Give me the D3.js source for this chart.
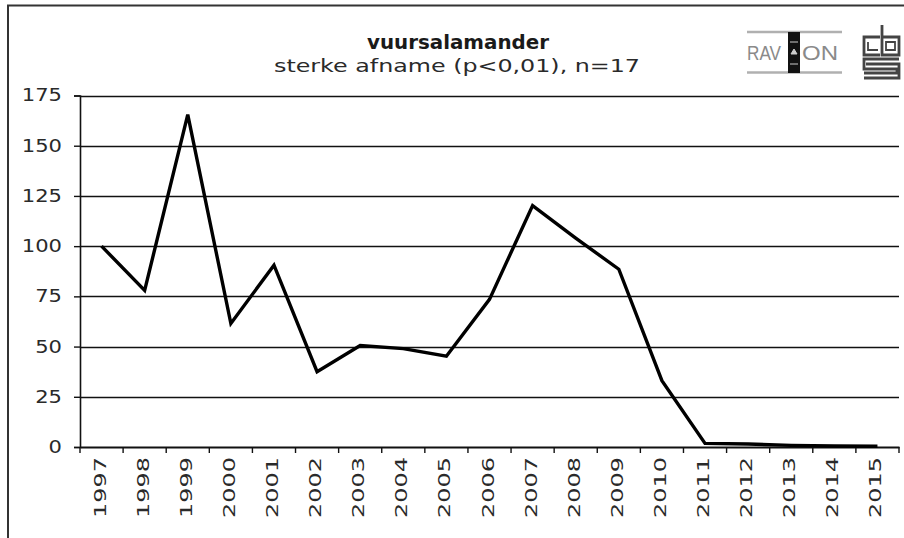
<!DOCTYPE html>
<html>
<head>
<meta charset="utf-8">
<script src="https://cdn.jsdelivr.net/npm/d3@7"></script>
<style>
  body { margin: 0; background: #fff; }
  svg { display: block; }
  text { font-family: Verdana, "DejaVu Sans", sans-serif; }
</style>
</head>
<body>
<div id="chart"></div>
<script>
// data
const years = ['1997','1998','1999','2000','2001','2002','2003','2004','2005','2006',
               '2007','2008','2009','2010','2011','2012','2013','2014','2015'];
const index = [100, 78, 165.5, 61.5, 90.5, 37.5, 50.5, 49, 45.2, 73.5,
               120.2, 104, 88.5, 33, 1.8, 1.5, 0.8, 0.5, 0.4];
const yTicks = [0, 25, 50, 75, 100, 125, 150, 175];
const title = 'vuursalamander';
const subtitle = 'sterke afname (p<0,01), n=17';

const width = 904, height = 538;
const plotLeft = 80, plotRight = 899, plotTop = 95.5, plotBottom = 447;

const svg = d3.select('#chart').append('svg')
    .attr('width', width)
    .attr('height', height);

// frame (top + left edge)
svg.append('path')
    .attr('d', 'M8,538 V5.5 H904')
    .attr('fill', 'none')
    .attr('stroke', '#333')
    .attr('stroke-width', 2);

// scales
const x = d3.scaleBand().domain(years).range([plotLeft, plotRight]);
const y = d3.scaleLinear().domain([0, 175]).range([plotBottom, plotTop]);

// gridlines
svg.append('g')
    .selectAll('line')
    .data(yTicks.filter(d => d > 0))
    .enter()
    .append('line')
    .attr('x1', plotLeft)
    .attr('x2', plotRight)
    .attr('y1', d => Math.round(y(d)) + 0.5)
    .attr('y2', d => Math.round(y(d)) + 0.5)
    .attr('stroke', '#111')
    .attr('stroke-width', 1.6);

// y axis
const yAxis = d3.axisLeft(y).tickValues(yTicks).tickSize(6).tickPadding(12);
const gy = svg.append('g')
    .attr('transform', 'translate(' + plotLeft + ',0)')
    .call(yAxis);
gy.select('.domain').attr('stroke', '#111').attr('stroke-width', 1.6);
gy.selectAll('.tick line').attr('stroke', '#111').attr('stroke-width', 1.4);
gy.selectAll('.tick text')
    .attr('font-size', 17)
    .attr('font-family', 'Verdana, "DejaVu Sans", sans-serif')
    .attr('fill', '#2a2a2a')
    .attr('textLength', d => String(d).length * 13.4)
    .attr('lengthAdjust', 'spacingAndGlyphs');

// x axis (ticks at band edges)
const xAxis = d3.axisBottom(x).tickSize(0).tickFormat('');
const gx = svg.append('g')
    .attr('transform', 'translate(0,' + plotBottom + ')')
    .call(xAxis);
gx.select('.domain').attr('stroke', '#111').attr('stroke-width', 1.8);

svg.append('g')
    .selectAll('line')
    .data(years)
    .enter()
    .append('line')
    .attr('x1', d => x(d) + x.bandwidth())
    .attr('x2', d => x(d) + x.bandwidth())
    .attr('y1', plotBottom)
    .attr('y2', plotBottom + 6)
    .attr('stroke', '#111')
    .attr('stroke-width', 1.4);
svg.append('line')
    .attr('x1', plotLeft).attr('x2', plotLeft)
    .attr('y1', plotBottom).attr('y2', plotBottom + 6)
    .attr('stroke', '#111').attr('stroke-width', 1.4);

// rotated year labels
svg.append('g')
    .selectAll('text')
    .data(years)
    .enter()
    .append('text')
    .attr('transform', d => 'translate(' + (x(d) + x.bandwidth() / 2 + 4) + ',457) rotate(-90)')
    .attr('text-anchor', 'end')
    .attr('font-size', 16)
    .attr('fill', '#2a2a2a')
    .attr('textLength', 61)
    .attr('lengthAdjust', 'spacingAndGlyphs')
    .text(d => d);

// line
const line = d3.line()
    .x((d, i) => x(years[i]) + x.bandwidth() / 2)
    .y(d => y(d));

svg.append('path')
    .datum(index)
    .attr('d', line)
    .attr('fill', 'none')
    .attr('stroke', '#000')
    .attr('stroke-width', 3.4)
    .attr('stroke-linejoin', 'miter');

// titles
svg.append('text')
    .attr('x', 458).attr('y', 49)
    .attr('text-anchor', 'middle')
    .attr('font-size', 19)
    .attr('font-weight', 'bold')
    .attr('fill', '#1a1a1a')
    .attr('textLength', 182)
    .attr('lengthAdjust', 'spacingAndGlyphs')
    .text(title);

svg.append('text')
    .attr('x', 457).attr('y', 72)
    .attr('text-anchor', 'middle')
    .attr('font-size', 18)
    .attr('fill', '#2a2a2a')
    .attr('textLength', 366)
    .attr('lengthAdjust', 'spacingAndGlyphs')
    .text(subtitle);

// RAVON logo
const ravon = svg.append('g');
ravon.selectAll('line.bar')
    .data([32, 72.5])
    .enter()
    .append('line')
    .attr('x1', 747).attr('x2', 842)
    .attr('y1', d => d).attr('y2', d => d)
    .attr('stroke', '#b0b0b0').attr('stroke-width', 2.5);
ravon.append('text')
    .attr('x', 747).attr('y', 60)
    .style('font-family', '"Liberation Sans Narrow", "Liberation Sans", sans-serif')
    .attr('font-size', 20)
    .attr('fill', '#8a8a8a')
    .attr('textLength', 34)
    .attr('lengthAdjust', 'spacingAndGlyphs')
    .text('RAV');
ravon.append('rect')
    .attr('x', 788).attr('y', 32).attr('width', 12).attr('height', 41)
    .attr('fill', '#111');
ravon.append('path')
    .attr('d', 'M791,54 L794,49 L797,54 Z M790,42 H798 M790,64 H798')
    .attr('stroke', '#ccc').attr('stroke-width', 1).attr('fill', '#ccc');
ravon.append('text')
    .attr('x', 802).attr('y', 60)
    .style('font-family', '"Liberation Sans", sans-serif')
    .attr('font-size', 20)
    .attr('fill', '#8a8a8a')
    .attr('textLength', 36)
    .attr('lengthAdjust', 'spacingAndGlyphs')
    .text('ON');

// CBS logo
svg.append('path')
    .attr('d', 'M880,37 H864 V55 H880 M882,25 V55 H899 V37 H882 ' +
               'M899,59 H864 V69 H897 V73 H864 M864,78 H899 V64 H866')
    .attr('fill', 'none')
    .attr('stroke', '#444')
    .attr('stroke-width', 2.8);
svg.append('path')
    .attr('d', 'M868,42 V50 H878 M886,42 V50 H895 V42 Z')
    .attr('fill', 'none')
    .attr('stroke', '#444')
    .attr('stroke-width', 1.8);
</script>
</body>
</html>
